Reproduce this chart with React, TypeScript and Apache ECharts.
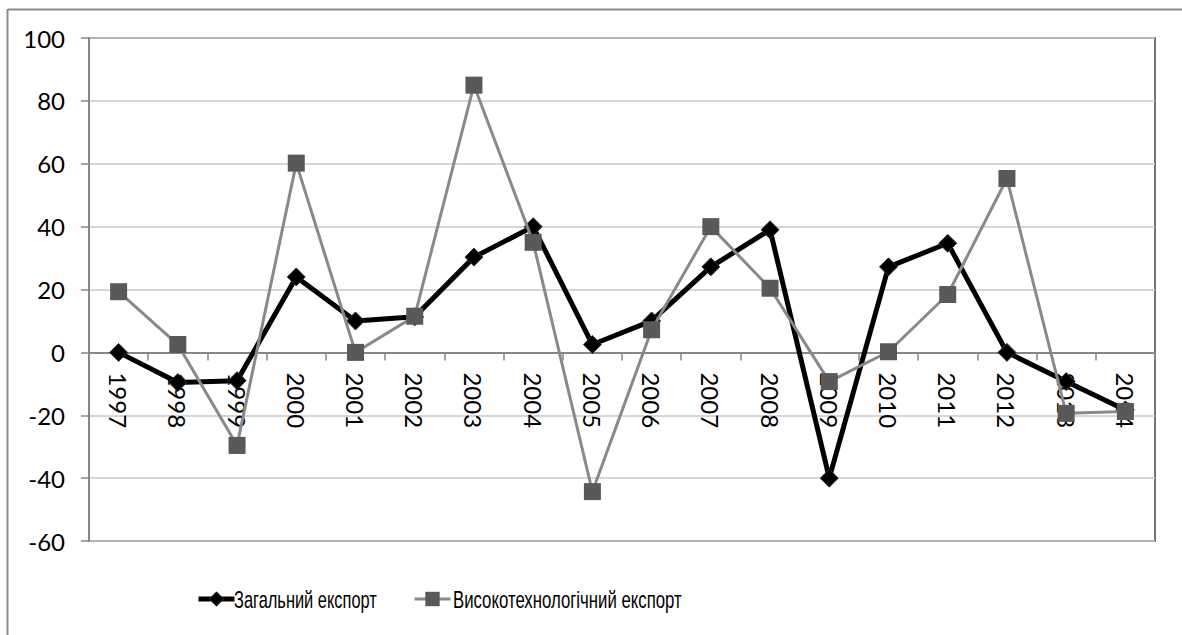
import React, { useEffect, useRef } from "react";
import * as echarts from "echarts";

const years = ["1997","1998","1999","2000","2001","2002","2003","2004","2005","2006","2007","2008","2009","2010","2011","2012","2013","2014"];
const totalExport = [0, -9.6, -9, 24, 10, 11.3, 30.3, 40, 2.5, 10, 27.2, 39, -40, 27.2, 34.7, 0, -9.3, -18.3];
const hiTechExport = [19.3, 2.5, -29.6, 60.2, 0, 11.5, 85, 35, -44.3, 7.2, 40, 20.4, -9.3, 0.2, 18.4, 55.3, -19.4, -18.8];
const seriesNames = ["Загальний експорт", "Високотехнологічний експорт"];
const yMin = -60;
const yMax = 100;
const yStep = 20;

const legendFont = "24px 'Liberation Sans', Arial, sans-serif";

function measure(text: string): number {
  const c = document.createElement("canvas").getContext("2d");
  if (!c) return 200;
  c.font = legendFont;
  return c.measureText(text).width;
}

export default function App() {
  const ref = useRef<HTMLDivElement>(null);
  useEffect(() => {
    if (!ref.current) return;
    const chart = echarts.init(ref.current, null, { renderer: "svg" });
    const gridTop = 38;
    const gridBottom = 94;
    const plotH = 635 - gridTop - gridBottom;
    const zeroOffset = -plotH * (0 - yMin) / (yMax - yMin);
    const legendY = 599;
    const legendTexts = [
      { text: seriesNames[0], x: 234, w: 143 },
      { text: seriesNames[1], x: 453, w: 229 },
    ];
    const legendCommon = {
      top: legendY - 9, padding: 0,
      itemWidth: 36, itemHeight: 18,
      formatter: () => "",
      textStyle: { fontSize: 1 },
    };
    chart.setOption({
      animation: false,
      backgroundColor: "#ffffff",
      graphic: [
        { type: "line", shape: { x1: 8, y1: 9.5, x2: 1182, y2: 9.5 }, style: { stroke: "#8a8a8a", lineWidth: 2 } },
        { type: "line", shape: { x1: 7.5, y1: 9, x2: 7.5, y2: 635 }, style: { stroke: "#8a8a8a", lineWidth: 2 } },
        ...legendTexts.map((t) => ({
          type: "text",
          x: t.x, y: legendY,
          scaleX: t.w / measure(t.text),
          style: {
            text: t.text, font: legendFont, fill: "#000",
            textAlign: "left", textVerticalAlign: "middle",
          },
        })),
      ],
      grid: {
        left: 89, top: gridTop, right: 27, bottom: gridBottom,
        show: true, borderColor: "#747474", borderWidth: 2, containLabel: false,
      },
      legend: [
        {
          ...legendCommon, left: 196,
          data: [{ name: seriesNames[0], itemStyle: { color: "#000", borderColor: "#333", borderWidth: 1 }, lineStyle: { color: "#000", width: 5 } }],
        },
        {
          ...legendCommon, left: 413,
          data: [{ name: seriesNames[1], itemStyle: { color: "#595959" }, lineStyle: { color: "#898989", width: 3 } }],
        },
      ],
      xAxis: {
        type: "category",
        data: years,
        boundaryGap: true,
        offset: zeroOffset,
        axisLine: { onZero: false, lineStyle: { color: "#868686", width: 2 } },
        axisTick: { show: true, length: 8, lineStyle: { color: "#868686", width: 1.5 } },
        axisLabel: {
          rotate: -90, margin: 20, interval: 0,
          fontFamily: "Lato, 'Liberation Sans', sans-serif", fontSize: 24, color: "#000",
        },
        splitLine: { show: false },
      },
      yAxis: {
        type: "value",
        min: yMin, max: yMax, interval: yStep,
        axisLine: { show: true, lineStyle: { color: "#868686", width: 2 } },
        axisTick: { show: true, length: 8, lineStyle: { color: "#868686", width: 1.5 } },
        axisLabel: { margin: 24, fontFamily: "Lato, 'Liberation Sans', sans-serif", fontSize: 24, color: "#000" },
        splitLine: { lineStyle: { color: "#c8c8c8", width: 1.5 } },
      },
      series: [
        {
          name: seriesNames[0], type: "line", data: totalExport,
          symbol: "diamond", symbolSize: 18,
          lineStyle: { color: "#000", width: 5 },
          itemStyle: { color: "#000", borderColor: "#333", borderWidth: 1 },
          z: 2,
        },
        {
          name: seriesNames[1], type: "line", data: hiTechExport,
          symbol: "rect", symbolSize: 17,
          lineStyle: { color: "#898989", width: 3 },
          itemStyle: { color: "#595959" },
          z: 3,
        },
      ],
    });
    return () => chart.dispose();
  }, []);
  return <div ref={ref} style={{ position: "absolute", left: 0, top: 0, width: 1182, height: 635 }} />;
}
